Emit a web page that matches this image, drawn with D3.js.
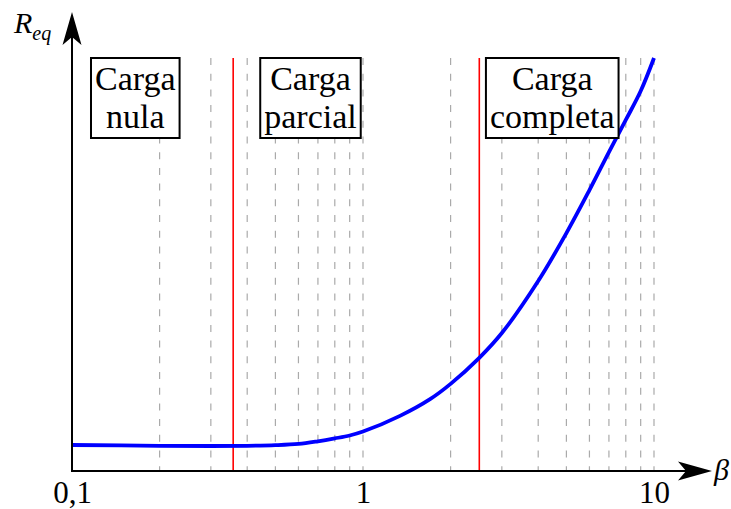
<!DOCTYPE html>
<html>
<head>
<meta charset="utf-8">
<script src="https://cdn.jsdelivr.net/npm/d3@7"></script>
<style>
  body { margin: 0; background: #fff; }
  text { font-family: "Liberation Serif", "DejaVu Serif", serif; }
</style>
</head>
<body>
<div id="chart"></div>
<script>
// Curve points (beta, Req)
const beta = [0.1, 0.2, 0.3, 0.4, 0.5, 0.6, 0.7, 0.8, 0.9, 1, 1.34, 1.7, 2, 2.51, 3, 4, 5, 6, 7, 8, 9, 10];
const req  = [6.3, 6.1, 6.05, 6.1, 6.25, 6.55, 7.2, 7.9, 8.6, 9.55, 13.35, 17.4, 21.1, 27.4, 33.4, 46.0, 57.6, 68.0, 77.2, 85.0, 92.0, 100];

// Dashed grid and red separators
const gridBeta = [0.2, 0.3, 0.4, 0.5, 0.6, 0.7, 0.8, 0.9, 1, 2, 3, 4, 5, 6, 7, 8, 9, 10];
const limits = [0.358, 2.51];

// Tick labels
const tickValues = [0.1, 1, 10];
const tickLabels = ["0,1", "1", "10"];

// Region labels
const regionNames = [["Carga", "nula"], ["Carga", "parcial"], ["Carga", "completa"]];
const regionBeta = [0.165, 0.66, 4.47];

const width = 731, height = 509;

const svg = d3.select("#chart").append("svg")
  .attr("width", width)
  .attr("height", height);

const x = d3.scaleLog().domain([0.1, 10]).range([72, 654]);
const y = d3.scaleLinear().domain([0, 100]).range([471, 58]);

// Grid lines
svg.append("g").selectAll("line")
  .data(gridBeta)
  .enter().append("line")
  .attr("x1", d => x(d)).attr("x2", d => x(d))
  .attr("y1", y(100)).attr("y2", y(0))
  .attr("stroke", "#aaaaaa")
  .attr("stroke-width", 1.2)
  .attr("stroke-dasharray", "7,8.7");

// Red limits
svg.append("g").selectAll("line")
  .data(limits)
  .enter().append("line")
  .attr("x1", d => x(d)).attr("x2", d => x(d))
  .attr("y1", y(100)).attr("y2", y(0))
  .attr("stroke", "#ff0000")
  .attr("stroke-width", 1.6);

// Curve
const pts = beta.map((b, i) => [b, req[i]]);
svg.append("path")
  .datum(pts)
  .attr("fill", "none")
  .attr("stroke", "#0000ff")
  .attr("stroke-width", 3.8)
  .attr("d", d3.line().x(d => x(d[0])).y(d => y(d[1])).curve(d3.curveCatmullRom.alpha(0.5)));

// Axes lines
svg.append("line")
  .attr("x1", 72).attr("x2", 688).attr("y1", y(0)).attr("y2", y(0))
  .attr("stroke", "#000").attr("stroke-width", 2);
svg.append("line")
  .attr("x1", 72).attr("x2", 72).attr("y1", y(0) + 1).attr("y2", 36)
  .attr("stroke", "#000").attr("stroke-width", 2);

// Arrow heads (stealth style)
const y0 = y(0);
svg.append("path")
  .attr("d", `M712,${y0} L678,${y0 - 9.5} L686,${y0} L678,${y0 + 9.5} Z`)
  .attr("fill", "#000");
svg.append("path")
  .attr("d", `M72,12 L62.5,45 L72,37 L81.5,45 Z`)
  .attr("fill", "#000");

// Tick labels
const xAxis = svg.append("g")
  .attr("transform", `translate(0,${y0})`)
  .call(d3.axisBottom(x).tickValues(tickValues).tickSize(0).tickPadding(10)
    .tickFormat((d, i) => tickLabels[i]));
xAxis.select(".domain").remove();
xAxis.selectAll("text")
  .attr("font-family", "Liberation Serif, serif")
  .attr("font-size", 31)
  .attr("fill", "#000");

// Axis titles
const yt = svg.append("text").attr("x", 14).attr("y", 33)
  .attr("font-style", "italic").attr("font-size", 30);
yt.append("tspan").text("R");
yt.append("tspan").attr("font-size", 20).attr("dy", 7).text("eq");

svg.append("text").attr("x", 714).attr("y", 480)
  .attr("font-style", "italic").attr("font-size", 30).text("β");

// Region boxes
regionNames.forEach((lines, i) => {
  const g = svg.append("g");
  const cx = x(regionBeta[i]);
  const t = g.append("text")
    .attr("text-anchor", "middle")
    .attr("font-size", 34);
  t.append("tspan").attr("x", cx).attr("y", 90).text(lines[0]);
  t.append("tspan").attr("x", cx).attr("y", 128).text(lines[1]);
  const bb = t.node().getBBox();
  const w = bb.width + 8;
  g.insert("rect", "text")
    .attr("x", cx - w / 2).attr("y", 58)
    .attr("width", w).attr("height", 80)
    .attr("fill", "#fff")
    .attr("stroke", "#000")
    .attr("stroke-width", 2);
});
</script>
</body>
</html>
